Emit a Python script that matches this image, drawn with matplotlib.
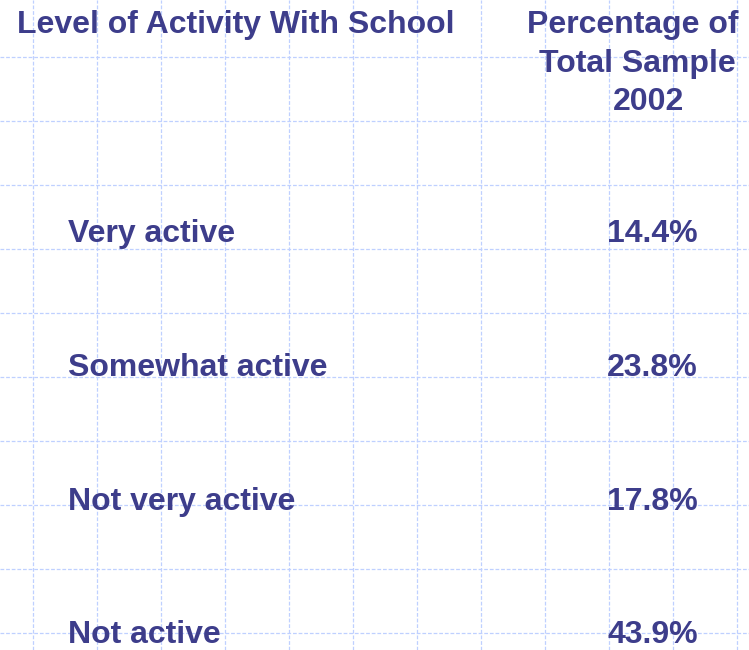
import matplotlib
matplotlib.use("Agg")
import matplotlib.pyplot as plt
import numpy as np

# Data
header_left = "Level of Activity With School"
header_right = ["Percentage of", "Total Sample", "2002"]
categories = ["Very active", "Somewhat active", "Not very active", "Not active"]
values = [14.4, 23.8, 17.8, 43.9]

TEXT = "#3d3d8b"
GRID = "#bfd0ff"
W, H = 749, 650

fig = plt.figure(figsize=(W / 100, H / 100), dpi=100)
ax = fig.add_axes([0, 0, 1, 1])
ax.set_xlim(0, W)
ax.set_ylim(H, 0)
for s in ax.spines.values():
    s.set_visible(False)

# grid background
xs = np.arange(32.5, W, 64)
ys = np.arange(57, H, 64)
ax.set_xticks(xs)
ax.set_yticks(ys)
ax.tick_params(length=0, labelbottom=False, labelleft=False)
ax.grid(True, color=GRID, linestyle=(0, (3, 1.5)), linewidth=0.9)
ax.set_axisbelow(True)

font = dict(family="Liberation Sans", weight="bold", color=TEXT)

# headers
ax.text(236, 33, header_left, fontsize=23, ha="center", va="baseline", **font)
hr_centers = [633, 637, 648]
hr_base = [33, 72, 110]
for t, cx, by in zip(header_right, hr_centers, hr_base):
    ax.text(cx, by, t, fontsize=23, ha="center", va="baseline", **font)

# rows
base = [242, 376, 510, 643]
for cat, v, by in zip(categories, values, base):
    ax.text(68, by, cat, fontsize=23, ha="left", va="baseline", **font)
    ax.text(698, by, f"{v:.1f}%", fontsize=23, ha="right", va="baseline", **font)

fig.savefig("out.png", dpi=100)
